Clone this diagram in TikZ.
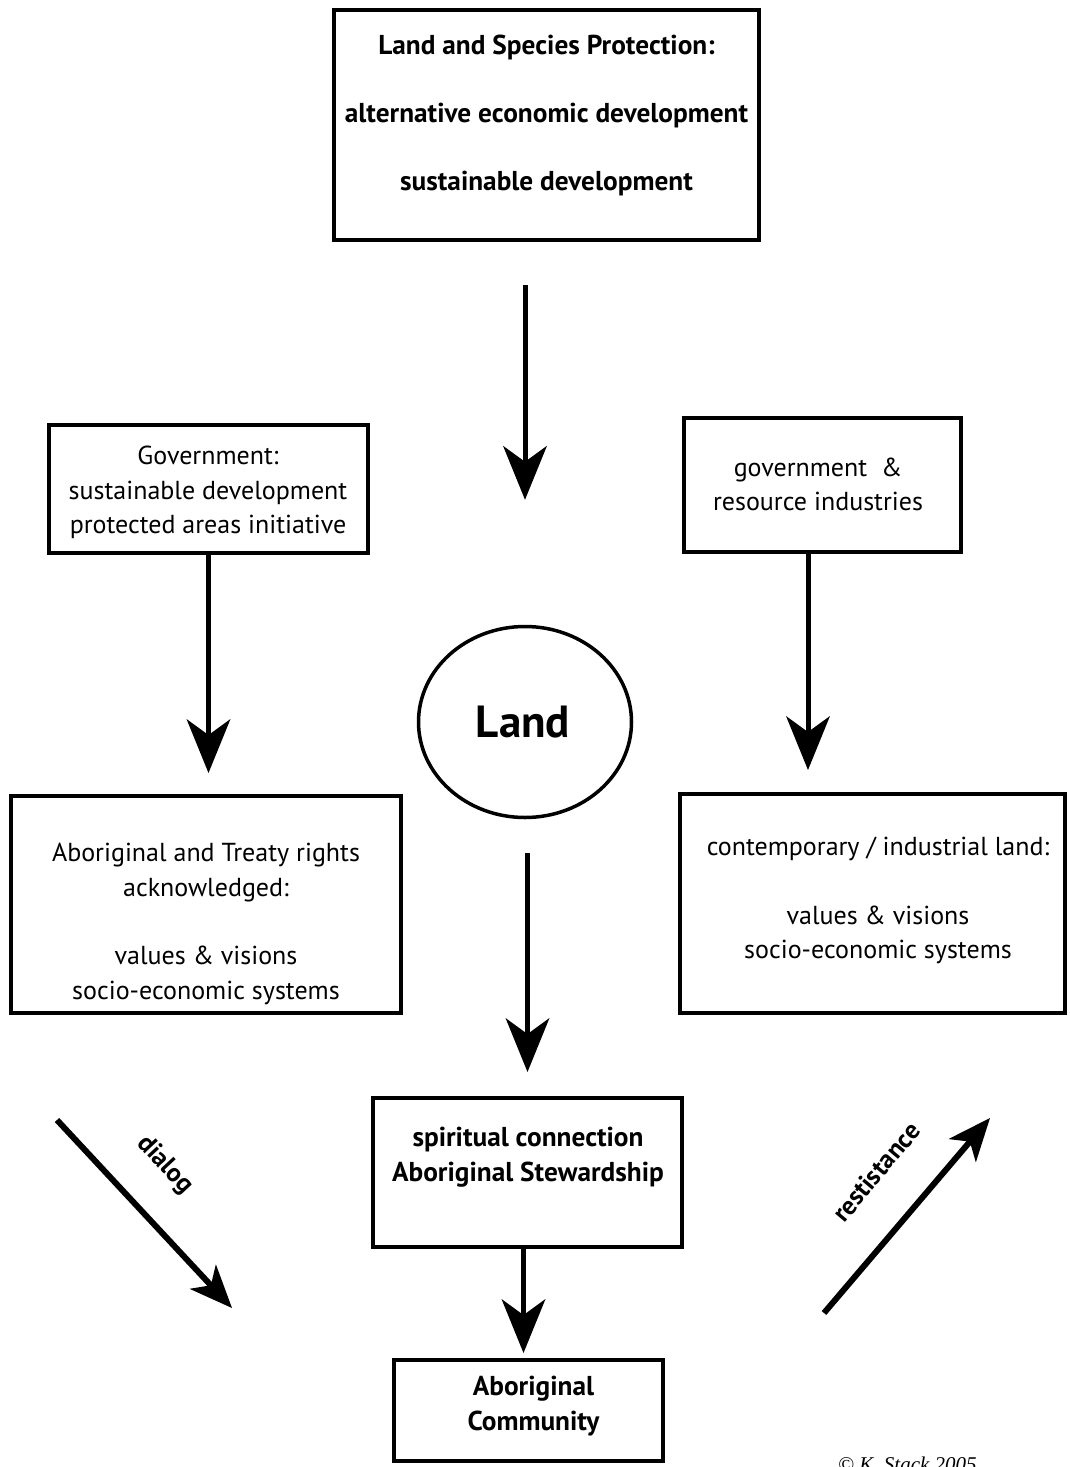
\documentclass[tikz,border=0pt]{standalone}
\usepackage{fontspec}
\setmainfont{PT Sans}
\newfontfamily\copyfont{Liberation Serif}
\usetikzlibrary{arrows.meta,shapes.geometric}

\begin{document}
\begin{tikzpicture}[x=1pt,y=-1pt,
    box/.style={draw, line width=4pt, inner sep=0pt},
    txt/.style={align=center, inner sep=0pt, font=\fontsize{26}{34.5}\selectfont},
    btxt/.style={align=center, inner sep=0pt, font=\fontsize{27.3}{35}\selectfont\bfseries},
    flow/.style={line width=5pt, -{Stealth[length=54pt, width=44pt, inset=16pt, line width=0pt]}},
    side/.style={line width=6pt, -{Stealth[length=43pt, width=36pt, inset=12pt, line width=0pt]}}]
    \useasboundingbox (0,0) rectangle (1069,1467);
    \clip (0,0) rectangle (1069,1467);

    % Boxes
    \node[box, minimum width=425pt, minimum height=230pt] (protbox) at (546.5,125) {};
    \node[btxt] (prottxt) at (546.5,115) {Land and Species Protection:\\[33pt]
      alternative economic development\\[33pt] sustainable development};

    \node[box, minimum width=319pt, minimum height=128pt] (govl) at (208.5,489) {};
    \node[txt] (govltxt) at (208,492.5) {Government:\\ sustainable development\\ protected areas initiative};

    \node[box, minimum width=277pt, minimum height=134pt] (govr) at (822.5,485) {};
    \node[txt] (govrtxt) at (818,484.5) {government~ \&\\ resource industries};

    \node[box, shape=ellipse, line width=3.5pt, minimum width=213pt, minimum height=191pt] (land) at (525,722) {};
    \node[btxt, font=\fontsize{45}{45}\selectfont\bfseries] (landtxt) at (523,722) {Land};

    \node[box, minimum width=390pt, minimum height=217pt] (rights) at (206,904.5) {};
    \node[txt] (rightstxt) at (206,924) {Aboriginal and Treaty rights\\ acknowledged:\\[34pt]
      values \& visions\\ socio-economic systems};

    \node[box, minimum width=385pt, minimum height=219pt] (contemp) at (872.5,903.5) {};
    \node[txt] (contemptxt) at (878,900.5) {contemporary / industrial land:\\[34pt]
      values \& visions\\ socio-economic systems};

    \node[box, minimum width=309pt, minimum height=149pt] (spirit) at (527.5,1172.5) {};
    \node[btxt] (spirittxt) at (528,1157.5) {spiritual connection\\ Aboriginal Stewardship};

    \node[box, minimum width=269pt, minimum height=101pt] (comm) at (528.5,1410.5) {};
    \node[btxt] (commtxt) at (533.5,1406) {Aboriginal\\ Community};

    % Arrows
    \draw[flow, shorten <=43pt, shorten >=125pt] (protbox.south -| land) -- (land.north);
    \draw[flow, shorten >=21pt] (govl.south) -- (govl.south |- rights.north);
    \draw[flow, shorten >=22pt] ([xshift=-14.5pt]govr.south) -- ([xshift=-14.5pt]govr.south |- contemp.north);
    \draw[flow, shorten <=34pt, shorten >=24pt] (land.south -| spirit) -- (spirit.north);
    \draw[flow, shorten >=5pt] ([xshift=-4pt]spirit.south) -- ([xshift=-4pt]spirit.south |- comm.north);

    % Dialog and resistance
    \coordinate (dlgstart) at (57,1120);
    \coordinate (dlgend) at (232,1308);
    \draw[side] (dlgstart) -- (dlgend);
    \node[btxt, font=\fontsize{26}{26}\selectfont\bfseries, rotate=-47] (dlglab) at (165,1165) {dialog};

    \coordinate (resstart) at (824,1313);
    \coordinate (resend) at (990,1118);
    \draw[side] (resstart) -- (resend);
    \node[btxt, font=\fontsize{26}{26}\selectfont\bfseries, rotate=50] (reslab) at (876,1172) {restistance};

    % Credit
    \node[anchor=north west, inner sep=0pt, font=\fontsize{21}{21}\copyfont\itshape] (credit) at (838,1457) {\textcopyright\ K. Stack 2005};
\end{tikzpicture}
\end{document}
